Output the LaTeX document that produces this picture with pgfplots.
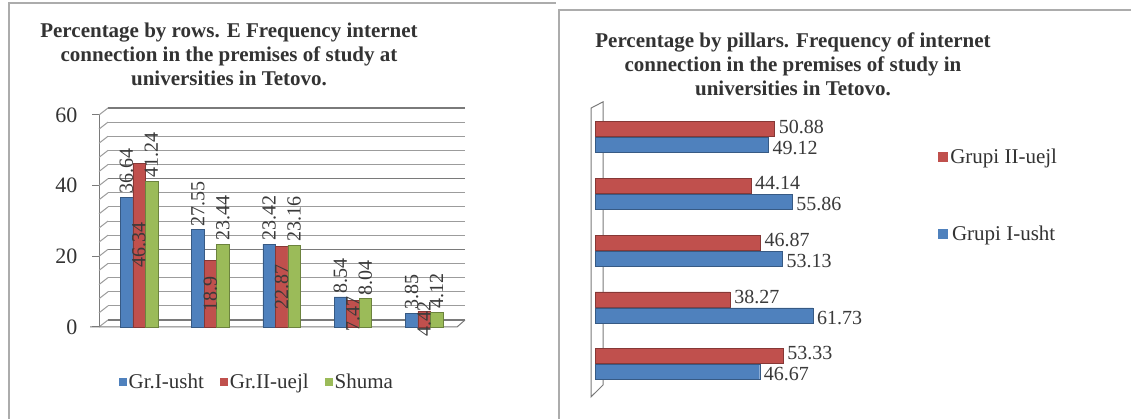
\documentclass[border=0pt]{standalone}
\usepackage{fontspec}
\setmainfont{Liberation Serif}
\usepackage{pgfplots}
\usepackage{pgfplotstable}
\pgfplotsset{compat=1.18}
\definecolor{cblue}{HTML}{4F81BD}
\definecolor{cred}{HTML}{C0504D}
\definecolor{cgreen}{HTML}{9BBB59}
\definecolor{lab}{HTML}{3A3A3A}
\definecolor{gridc}{HTML}{9C9C9C}
\definecolor{gridm}{HTML}{7A7A7A}

\pgfplotstableread{
x a b c
1 36.64 46.34 41.24
2 27.55 18.9 23.44
3 23.42 22.87 23.16
4 8.54 7.47 8.04
5 3.85 4.42 4.12
}\rowsdata

\pgfplotstableread{
y blue red
1 46.67 53.33
2 61.73 38.27
3 53.13 46.87
4 55.86 44.14
5 49.12 50.88
}\pillarsdata

\begin{document}
\begin{tikzpicture}
\useasboundingbox (0pt,0pt) rectangle (1131pt,419pt);
\fill[white] (0pt,0pt) rectangle (1131pt,419pt);
\draw[line width=2.5pt, gray!65] (9pt,0pt) -- (9pt,416pt) -- (556pt,416pt);
\draw[line width=2.5pt, gray!65] (559pt,0pt) -- (559pt,409pt) -- (1131pt,409pt);

\node[font=\fontsize{21}{24}\selectfont\bfseries, align=center, text=black!80] at (229pt,365pt)
  {Percentage by rows. E Frequency internet\\connection in the premises of study at\\universities in Tetovo.};
\node[font=\fontsize{21}{24}\selectfont\bfseries, align=center, text=black!80] at (793pt,354.5pt)
  {Percentage by pillars. Frequency of internet\\connection in the premises of study in\\universities in Tetovo.};

% back wall with gridlines
\begin{axis}[at={(108pt,99pt)}, anchor=south west, scale only axis,
  width=357pt, height=212pt, xmin=0, xmax=1, ymin=0, ymax=60,
  axis line style={draw=none}, xtick=\empty, ytick={0,20,40,60},
  minor ytick={4,8,12,16,24,28,32,36,44,48,52,56},
  yticklabels={}, major tick length=0pt, minor tick length=0pt,
  ymajorgrids, yminorgrids,
  major grid style={draw=gridm, line width=1.3pt},
  minor grid style={draw=gridc, line width=1pt}]
\end{axis}

% front: bars
\begin{axis}[at={(99pt,92pt)}, anchor=south west, scale only axis,
  width=358pt, height=212pt, xmin=0.439, xmax=5.46, ymin=0, ymax=60,
  clip=false, ybar, bar width=12.5pt,
  axis x line=none, axis y line*=left, xtick=\empty,
  y axis line style={draw=gridm, line width=1pt},
  ytick={0,20,40,60},
  ytick style={draw=gridm, line width=1pt},
  tick align=outside, major tick length=7pt,
  yticklabel style={font=\fontsize{22}{26}\selectfont, text=black!80, xshift=-11pt},
  /pgf/number format/assume math mode=true,
  legend columns=3,
  legend style={draw=none, fill=none, at={(0.441,-0.259)}, anchor=center,
    font=\fontsize{21}{24}\selectfont, text=black!80,
    /tikz/every even column/.append style={column sep=14pt}},
  legend image code/.code={\fill[#1,draw=none] (0pt,-4pt) rectangle (8pt,4pt);},
]
\pgfplotsinvokeforeach{0,4,...,60}{\draw[gridc, line width=1pt] (axis cs:0.439,#1) -- ++(9pt,7pt);}
\draw[gridm, line width=1pt] (axis cs:0.439,0) ++(-9pt,0pt) -- (axis cs:5.46,0) -- ++(8pt,7pt);
\addplot[fill=cblue, draw=cblue!70!black, bar shift=-12.5pt,
  nodes near coords,
  every node near coord/.append style={rotate=90, anchor=west, font=\fontsize{20}{24}\selectfont, text=lab}]
  table[x=x,y=a] {\rowsdata};
\addplot[fill=cred, draw=cred!70!black, bar shift=0pt,
  visualization depends on={\thisrow{b}\as\hv},
  nodes near coords,
  every node near coord/.append style={anchor=center, yshift=-\hv*1.76667pt, rotate=90, font=\fontsize{20}{24}\selectfont, text=lab}]
  table[x=x,y=b] {\rowsdata};
\addplot[fill=cgreen, draw=cgreen!70!black, bar shift=12.5pt,
  nodes near coords,
  every node near coord/.append style={rotate=90, anchor=west, font=\fontsize{20}{24}\selectfont, text=lab}]
  table[x=x,y=c] {\rowsdata};
\legend{Gr.I-usht, Gr.II-uejl, Shuma}
\end{axis}

% right chart
\begin{axis}[at={(589.35pt,20.95pt)}, anchor=south west, scale only axis,
  width=238.6pt, height=297.9pt, xmin=-1.6, xmax=66, ymin=0.4, ymax=5.65,
  hide axis, clip=false, xbar, bar width=15pt,
  /pgf/number format/assume math mode=true,
  legend style={draw=none, fill=none, at={(1.449,0.849)}, anchor=north west,
    font=\fontsize{21}{24}\selectfont, text=black!80, row sep=57pt},
  legend image code/.code={\fill[#1,draw=none] (0pt,-5pt) rectangle (10pt,5pt);},
]
\draw[gridm, line width=1pt, fill=white] (axis cs:-1.13,0.42) -- (axis cs:-1.13,5.51) -- (axis cs:2.27,5.62) -- (axis cs:2.27,0.63) -- cycle;
\addplot[fill=cred, draw=cred!70!black, bar shift=8pt,
  nodes near coords,
  every node near coord/.append style={font=\fontsize{20}{22}\selectfont, text=lab, anchor=west, xshift=2pt, yshift=2.5pt, inner sep=2pt}]
  table[x=red,y=y] {\pillarsdata};
\addplot[fill=cblue, draw=cblue!70!black, bar shift=-8pt,
  nodes near coords,
  every node near coord/.append style={font=\fontsize{20}{22}\selectfont, text=lab, anchor=west, xshift=2pt, yshift=-2.5pt, inner sep=2pt}]
  table[x=blue,y=y] {\pillarsdata};
\legend{Grupi II-uejl, Grupi I-usht}
\end{axis}
\end{tikzpicture}
\end{document}
